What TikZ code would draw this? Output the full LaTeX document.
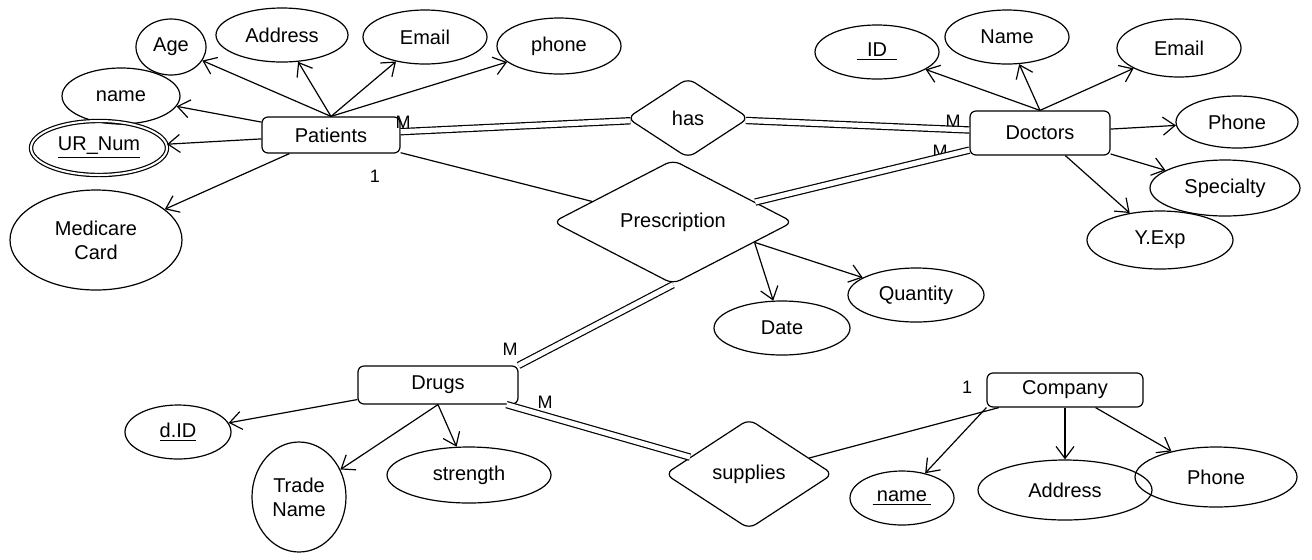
\documentclass[tikz,border=0pt]{standalone}
\usepackage{fontspec}
\setmainfont{Liberation Sans}
\usetikzlibrary{shapes.geometric}
\usetikzlibrary{arrows.meta}

\begin{document}
\begin{tikzpicture}[x=0.5pt, y=-0.5pt, semithick,
  every node/.style = {align=center},
  entity/.style = {draw, rounded corners=3pt, inner sep=0pt},
  attr/.style = {draw, ellipse, inner sep=0pt},
  rel/.style = {draw, diamond, inner sep=0pt, rounded corners=4pt},
  card/.style = {font=\small},
  attrlink/.style = {draw, -{Straight Barb[length=6pt,width=9pt]}},
  total/.style = {draw, double, double distance=2.5pt}]
  \useasboundingbox (0,0) rectangle (1312,559);
  \node[entity, minimum width=69pt, minimum height=18pt] (patients) at (331,135) {Patients};
  \node[entity, minimum width=70pt, minimum height=22pt] (doctors) at (1040,133) {Doctors};
  \node[entity, minimum width=80pt, minimum height=19pt] (drugs) at (438,385) {Drugs};
  \node[entity, minimum width=78pt, minimum height=17pt] (company) at (1065,390) {Company};
  \node[rel, minimum width=61pt, minimum height=40pt] (has) at (688,118) {has};
  \node[rel, minimum width=120pt, minimum height=57pt] (presc) at (673,222) {Prescription};
  \node[rel, minimum width=84pt, minimum height=55pt] (supplies) at (749,474) {supplies};
  \node[attr, minimum width=35pt, minimum height=28pt] (age) at (171,47) {Age};
  \node[attr, minimum width=66pt, minimum height=27pt] (paddress) at (282,35) {Address};
  \node[attr, minimum width=62pt, minimum height=27pt] (pemail) at (425,37) {Email};
  \node[attr, minimum width=62pt, minimum height=28pt] (pphone) at (559,46) {phone};
  \node[attr, minimum width=59pt, minimum height=28pt] (pname) at (121,96) {name};
  \node[attr, double, double distance=1pt, minimum width=68pt, minimum height=27pt] (urnum) at (99,148) {\underline{UR\_Num}};
  \node[attr, minimum width=86pt, minimum height=50pt] (medicare) at (96,240) {Medicare\\Card};
  \node[attr, minimum width=62pt, minimum height=27pt] (did) at (877,52) {\underline{\hphantom{x}ID\hphantom{x}}};
  \node[attr, minimum width=62pt, minimum height=27pt] (dname) at (1007,37) {Name};
  \node[attr, minimum width=62pt, minimum height=29pt] (demail) at (1179,48) {Email};
  \node[attr, minimum width=61pt, minimum height=26pt] (dphone) at (1237,122) {Phone};
  \node[attr, minimum width=75pt, minimum height=28pt] (specialty) at (1225,188) {Specialty};
  \node[attr, minimum width=73pt, minimum height=29pt] (yexp) at (1160,240) {Y.Exp};
  \node[attr, minimum width=68pt, minimum height=27pt] (quantity) at (916,295) {Quantity};
  \node[attr, minimum width=68pt, minimum height=27pt] (date) at (782,328) {Date};
  \node[attr, minimum width=53pt, minimum height=27pt] (drid) at (178,432) {\underline{d.ID}};
  \node[attr, minimum width=47pt, minimum height=55pt] (trade) at (299,497) {Trade\\Name};
  \node[attr, minimum width=82pt, minimum height=28pt] (strength) at (469,475) {strength};
  \node[attr, minimum width=52pt, minimum height=27pt] (cname) at (902,498) {\underline{\hphantom{i}name\hphantom{i}}};
  \node[attr, minimum width=87pt, minimum height=30pt] (caddress) at (1065,490) {Address};
  \node[attr, minimum width=81pt, minimum height=30pt] (cphone) at (1216,477) {Phone};
  \node[card] (m1) at (403,122) {M};
  \node[card] (c1) at (375,176) {1};
  \node[card] (m2) at (953,121) {M};
  \node[card] (m3) at (940,151) {M};
  \node[card] (m4) at (510,349) {M};
  \node[card] (m5) at (545,402) {M};
  \node[card] (c2) at (967,387) {1};
  \path [attrlink] (patients.north) -- (age);
  \path [attrlink] (patients.north) -- (paddress);
  \path [attrlink] (patients.north) -- (pemail);
  \path [attrlink] (patients.north) -- (pphone);
  \path [attrlink] (patients) -- (pname);
  \path [attrlink] (patients) -- (urnum);
  \path [attrlink] (patients) -- (medicare);
  \path [attrlink] (doctors.north) -- (did);
  \path [attrlink] (doctors.north) -- (dname);
  \path [attrlink] (doctors.north) -- (demail);
  \path [attrlink] (doctors) -- (dphone);
  \path [attrlink] (doctors) -- (specialty);
  \path [attrlink] (doctors) -- (yexp);
  \path [attrlink] (presc.-14) -- (quantity);
  \path [attrlink] (presc.-14) -- (date);
  \path [attrlink] (drugs) -- (drid);
  \path [attrlink] (drugs.south) -- (trade);
  \path [attrlink] (drugs.south) -- (strength);
  \path [attrlink] (company.south west) -- (cname);
  \path [attrlink] (company.south) -- (caddress);
  \path [attrlink] (company) -- (cphone);
  \path [total] (patients) -- (has);
  \path [total] (has) -- (doctors);
  \path [total] (presc) -- (doctors);
  \path [total] (presc.south) -- (drugs.north east);
  \path [total] (drugs) -- (supplies);
  \path [draw] (patients) -- (presc);
  \path [draw] (supplies) -- (company);
\end{tikzpicture}
\end{document}
